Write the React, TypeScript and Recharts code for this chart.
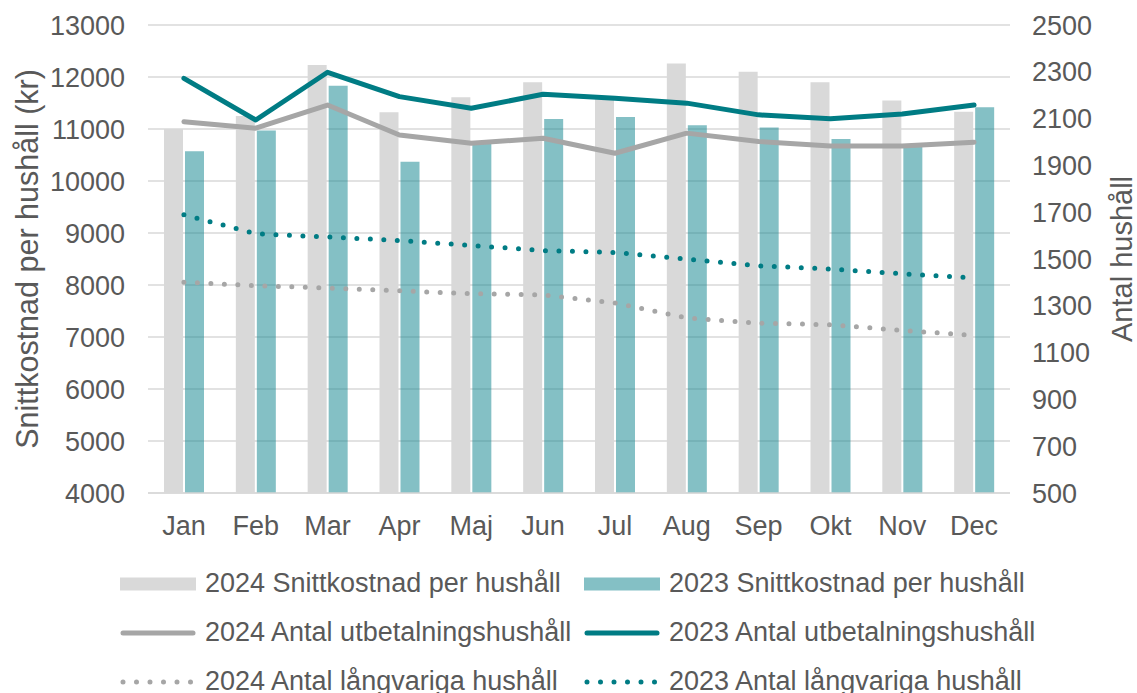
import React from 'react';
import { ComposedChart, Bar, Line, XAxis, YAxis, CartesianGrid, Legend } from 'recharts';

const months = ['Jan', 'Feb', 'Mar', 'Apr', 'Maj', 'Jun', 'Jul', 'Aug', 'Sep', 'Okt', 'Nov', 'Dec'];
const cost2024 = [11000, 11250, 12230, 11320, 11610, 11900, 11600, 12260, 12100, 11900, 11550, 11330];
const cost2023 = [10570, 10970, 11830, 10370, 10750, 11190, 11230, 11070, 11030, 10810, 10700, 11420];
const payout2024 = [2087, 2059, 2158, 2030, 1995, 2016, 1952, 2038, 2002, 1983, 1983, 1999];
const payout2023 = [2272, 2094, 2298, 2194, 2144, 2204, 2187, 2166, 2116, 2099, 2120, 2158];
const longterm2024 = [1401, 1386, 1376, 1364, 1352, 1347, 1312, 1248, 1226, 1219, 1195, 1173];
const longterm2023 = [1689, 1608, 1594, 1579, 1558, 1536, 1528, 1500, 1471, 1457, 1437, 1419];
const leftTicks = [4000, 5000, 6000, 7000, 8000, 9000, 10000, 11000, 12000, 13000];
const rightTicks = [500, 700, 900, 1100, 1300, 1500, 1700, 1900, 2100, 2300, 2500];
const seriesNames = [
  '2024 Snittkostnad per hushåll',
  '2023 Snittkostnad per hushåll',
  '2024 Antal utbetalningshushåll',
  '2023 Antal utbetalningshushåll',
  '2024 Antal långvariga hushåll',
  '2023 Antal långvariga hushåll',
];
const leftTitle = 'Snittkostnad per hushåll (kr)';
const rightTitle = 'Antal hushåll';

const data = months.map((m, i) => ({
  month: m,
  c24: cost2024[i],
  c23: cost2023[i],
  p24: payout2024[i],
  p23: payout2023[i],
  l24: longterm2024[i],
  l23: longterm2023[i],
}));

const GRAY_BAR = '#D9D9D9';
const TEAL_BAR = '#0A828C';
const GRAY_LINE = '#A6A6A6';
const TEAL_LINE = '#007C84';
const TEXT = '#595959';
const FONT = '"Liberation Sans", Arial, sans-serif';

const legendKinds = [
  { kind: 'bar', color: GRAY_BAR, opacity: 1 },
  { kind: 'bar', color: TEAL_BAR, opacity: 0.5 },
  { kind: 'line', color: GRAY_LINE, opacity: 1 },
  { kind: 'line', color: TEAL_LINE, opacity: 1 },
  { kind: 'dot', color: GRAY_LINE, opacity: 1 },
  { kind: 'dot', color: TEAL_LINE, opacity: 1 },
];

const Icon = ({ kind, color, opacity }: any) => (
  <svg width={76} height={16} style={{ display: 'block' }}>
    {kind === 'bar' && <rect x={0} y={1.5} width={76} height={13} fill={color} fillOpacity={opacity} />}
    {kind === 'line' && (
      <line x1={3} y1={8} x2={73} y2={8} stroke={color} strokeWidth={5} strokeLinecap="round" />
    )}
    {kind === 'dot' && (
      <line x1={3} y1={8} x2={73} y2={8} stroke={color} strokeWidth={5} strokeLinecap="round" strokeDasharray="0 13.5" />
    )}
  </svg>
);

const CustomLegend = () => (
  <div style={{ position: 'relative', width: 1137, height: 152, fontFamily: FONT, fontSize: 27, color: TEXT }}>
    {seriesNames.map((name, i) => {
      const col = i % 2;
      const row = Math.floor(i / 2);
      return (
        <div
          key={name}
          style={{
            position: 'absolute',
            left: col === 0 ? 120 : 584,
            top: 18 + row * 49,
            height: 49,
            display: 'flex',
            alignItems: 'center',
            whiteSpace: 'nowrap',
          }}
        >
          <Icon {...legendKinds[i]} />
          <span style={{ marginLeft: 9 }}>{name}</span>
        </div>
      );
    })}
  </div>
);

const lineCommon = {
  yAxisId: 'right',
  type: 'linear' as const,
  strokeWidth: 5,
  strokeLinecap: 'round' as const,
  strokeLinejoin: 'round' as const,
  dot: false,
  activeDot: false,
  isAnimationActive: false,
};

export default function App() {
  return (
    <div style={{ width: 1137, height: 693, overflow: 'hidden', background: '#fff' }}>
      <style>{'body{margin:0;}'}</style>
      <ComposedChart
        width={1137}
        height={693}
        data={data}
        margin={{ top: 25, right: 0, bottom: 0, left: 0 }}
        barSize={19}
        barGap={2}
        style={{ fontFamily: FONT }}
      >
        <CartesianGrid yAxisId="left" vertical={false} stroke="#D9D9D9" strokeWidth={1.5} />
        <XAxis
          dataKey="month"
          height={48}
          tickLine={false}
          axisLine={{ stroke: '#D9D9D9', strokeWidth: 1.5 }}
          tick={{ fill: TEXT, fontSize: 27, fontFamily: FONT }}
          tickMargin={17}
          interval={0}
        />
        <YAxis
          yAxisId="left"
          orientation="left"
          width={148}
          domain={[4000, 13000]}
          ticks={leftTicks}
          interval={0}
          axisLine={false}
          tickLine={false}
          tickSize={0}
          tickMargin={23}
          tick={{ fill: TEXT, fontSize: 27, fontFamily: FONT }}
          label={{
            value: leftTitle,
            angle: -90,
            position: 'center',
            dx: -47,
            style: { fill: TEXT, fontSize: 30.5, fontFamily: FONT, textAnchor: 'middle' },
          }}
        />
        <YAxis
          yAxisId="right"
          orientation="right"
          width={127}
          domain={[500, 2500]}
          ticks={rightTicks}
          interval={0}
          axisLine={false}
          tickLine={false}
          tickSize={0}
          tickMargin={22}
          tick={{ fill: TEXT, fontSize: 27, fontFamily: FONT }}
          label={{
            value: rightTitle,
            angle: -90,
            position: 'center',
            dx: 48,
            style: { fill: TEXT, fontSize: 29, fontFamily: FONT, textAnchor: 'middle' },
          }}
        />
        <Legend verticalAlign="bottom" content={() => <CustomLegend />} />
        <Bar yAxisId="left" dataKey="c24" name={seriesNames[0]} fill={GRAY_BAR} isAnimationActive={false} />
        <Bar yAxisId="left" dataKey="c23" name={seriesNames[1]} fill={TEAL_BAR} fillOpacity={0.5} isAnimationActive={false} />
        <Line {...lineCommon} dataKey="p24" name={seriesNames[2]} stroke={GRAY_LINE} />
        <Line {...lineCommon} dataKey="p23" name={seriesNames[3]} stroke={TEAL_LINE} />
        <Line {...lineCommon} dataKey="l24" name={seriesNames[4]} stroke={GRAY_LINE} strokeDasharray="0 13.5" />
        <Line {...lineCommon} dataKey="l23" name={seriesNames[5]} stroke={TEAL_LINE} strokeDasharray="0 13.5" />
      </ComposedChart>
    </div>
  );
}
